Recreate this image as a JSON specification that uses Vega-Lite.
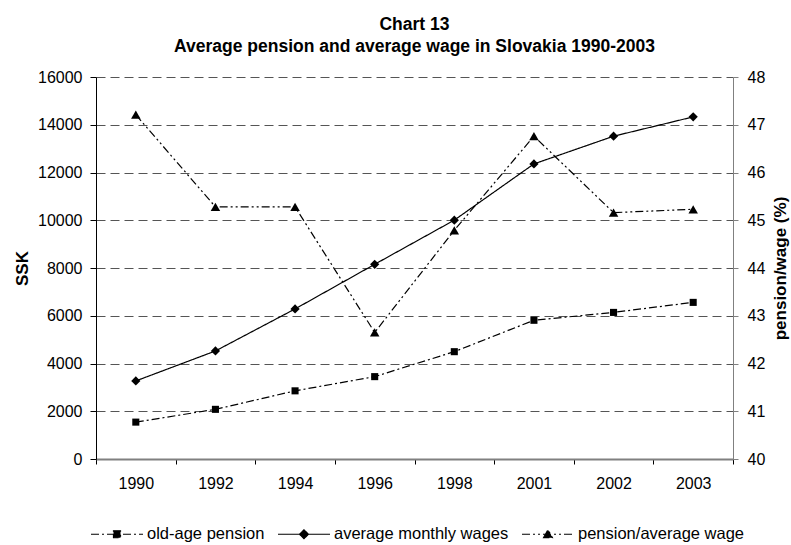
{
  "$schema": "https://vega.github.io/schema/vega-lite/v6.json",
  "width": 637,
  "height": 382,
  "autosize": {"type": "none"},
  "padding": {"left": 96, "top": 77, "right": 58, "bottom": 86},
  "config": {"view": {"stroke": null}, "font": "Liberation Sans"},
  "title": {
    "text": ["Chart 13", "Average pension and average wage in Slovakia 1990-2003"],
    "fontSize": 17.5, "fontWeight": "bold", "font": "Liberation Sans", "color": "#000",
    "anchor": "middle", "offset": 14, "lineHeight": 22
  },
  "data": {
    "values": [
      {"year": "1990", "series": "old-age pension", "value": 1545},
      {"year": "1992", "series": "old-age pension", "value": 2080},
      {"year": "1994", "series": "old-age pension", "value": 2855},
      {"year": "1996", "series": "old-age pension", "value": 3450},
      {"year": "1998", "series": "old-age pension", "value": 4495},
      {"year": "2001", "series": "old-age pension", "value": 5810},
      {"year": "2002", "series": "old-age pension", "value": 6140},
      {"year": "2003", "series": "old-age pension", "value": 6560},
      {"year": "1990", "series": "average monthly wages", "value": 3270},
      {"year": "1992", "series": "average monthly wages", "value": 4525},
      {"year": "1994", "series": "average monthly wages", "value": 6285},
      {"year": "1996", "series": "average monthly wages", "value": 8155},
      {"year": "1998", "series": "average monthly wages", "value": 10005},
      {"year": "2001", "series": "average monthly wages", "value": 12360},
      {"year": "2002", "series": "average monthly wages", "value": 13520},
      {"year": "2003", "series": "average monthly wages", "value": 14330},
      {"year": "1990", "series": "pension/average wage", "value": 47.21},
      {"year": "1992", "series": "pension/average wage", "value": 45.28},
      {"year": "1994", "series": "pension/average wage", "value": 45.28},
      {"year": "1996", "series": "pension/average wage", "value": 42.65},
      {"year": "1998", "series": "pension/average wage", "value": 44.79},
      {"year": "2001", "series": "pension/average wage", "value": 46.76},
      {"year": "2002", "series": "pension/average wage", "value": 45.16},
      {"year": "2003", "series": "pension/average wage", "value": 45.23}
    ]
  },
  "encoding": {
    "x": {
      "field": "year", "type": "ordinal", "sort": null,
      "scale": {"paddingInner": 0, "paddingOuter": 0},
      "axis": {
        "title": null, "labelAngle": 0, "labelFontSize": 16, "labelColor": "#000",
        "labelPadding": 11, "tickBand": "extent", "tickSize": 5, "tickColor": "#000",
        "domainColor": "#808080", "domainWidth": 2, "grid": false
      }
    }
  },
  "layer": [
    {
      "transform": [{"filter": "datum.series !== 'pension/average wage'"}],
      "encoding": {
        "y": {
          "field": "value", "type": "quantitative",
          "scale": {"domain": [0, 16000], "nice": false},
          "axis": {
            "title": "SSK", "titleFontSize": 17, "titleFontWeight": "bold", "titleColor": "#000",
            "titlePadding": 6,
            "values": [0, 2000, 4000, 6000, 8000, 10000, 12000, 14000, 16000],
            "format": "d", "labelFontSize": 16, "labelColor": "#000", "labelPadding": 8,
            "tickSize": 6, "tickColor": "#000", "domainColor": "#000",
            "grid": true, "gridDash": [9, 5], "gridColor": "#555", "gridWidth": 1
          }
        }
      },
      "layer": [
        {
          "mark": {"type": "line", "color": "#000", "strokeWidth": 1.2},
          "encoding": {
            "strokeDash": {
              "field": "series", "type": "nominal",
              "scale": {
                "domain": ["old-age pension", "average monthly wages", "pension/average wage"],
                "range": [[8, 3, 2, 3], [1, 0], [8, 3, 2, 3, 2, 3]]
              },
              "legend": {
                "orient": "none", "direction": "horizontal", "title": null,
                "legendX": -6, "legendY": 430,
                "labelFontSize": 16.5, "labelColor": "#000", "labelOffset": 3, "columnPadding": 10,
                "labelLimit": 400,
                "symbolSize": 2704, "symbolStrokeColor": "#000", "symbolFillColor": "#000",
                "symbolStrokeWidth": 1.2,
                "encode": {
                  "symbols": {
                    "update": {
                      "shape": {"signal": "datum.value === 'old-age pension' ? 'M-1,0H1M-0.135,-0.135H0.135V0.135H-0.135Z' : datum.value === 'average monthly wages' ? 'M-1,0H1M-0.17,0L0,-0.17L0.17,0L0,0.17Z' : 'M-1,0H1M-0.17,0.13L0,-0.17L0.17,0.13Z'"},
                      "size": {"value": 2704},
                      "fill": {"value": "#000"},
                      "stroke": {"value": "#000"},
                      "strokeWidth": {"value": 1.2}
                    }
                  }
                }
              }
            }
          }
        },
        {
          "transform": [{"filter": "datum.series === 'old-age pension'"}],
          "mark": {"type": "point", "filled": true, "opacity": 1, "color": "#000", "shape": "square", "size": 50}
        },
        {
          "transform": [{"filter": "datum.series === 'average monthly wages'"}],
          "mark": {"type": "point", "filled": true, "opacity": 1, "color": "#000", "shape": "diamond", "size": 85}
        }
      ]
    },
    {
      "transform": [{"filter": "datum.series === 'pension/average wage'"}],
      "encoding": {
        "y": {
          "field": "value", "type": "quantitative",
          "scale": {"domain": [40, 48], "nice": false, "zero": false},
          "axis": {
            "orient": "right", "title": "pension/wage (%)", "titleAngle": 270, "titleBaseline": "top",
            "titleFontSize": 17, "titleFontWeight": "bold", "titleColor": "#000", "titlePadding": 8,
            "values": [40, 41, 42, 43, 44, 45, 46, 47, 48],
            "labelFontSize": 16, "labelColor": "#000", "labelPadding": 9,
            "tickSize": 5, "tickColor": "#808080", "domainColor": "#808080", "grid": false
          }
        }
      },
      "layer": [
        {
          "mark": {"type": "line", "color": "#000", "strokeWidth": 1.2},
          "encoding": {
            "strokeDash": {
              "field": "series", "type": "nominal",
              "scale": {
                "domain": ["old-age pension", "average monthly wages", "pension/average wage"],
                "range": [[8, 3, 2, 3], [1, 0], [8, 3, 2, 3, 2, 3]]
              }
            }
          }
        },
        {
          "mark": {"type": "point", "filled": true, "opacity": 1, "color": "#000", "shape": "triangle-up", "size": 90}
        }
      ]
    }
  ],
  "resolve": {"scale": {"y": "independent"}}
}
